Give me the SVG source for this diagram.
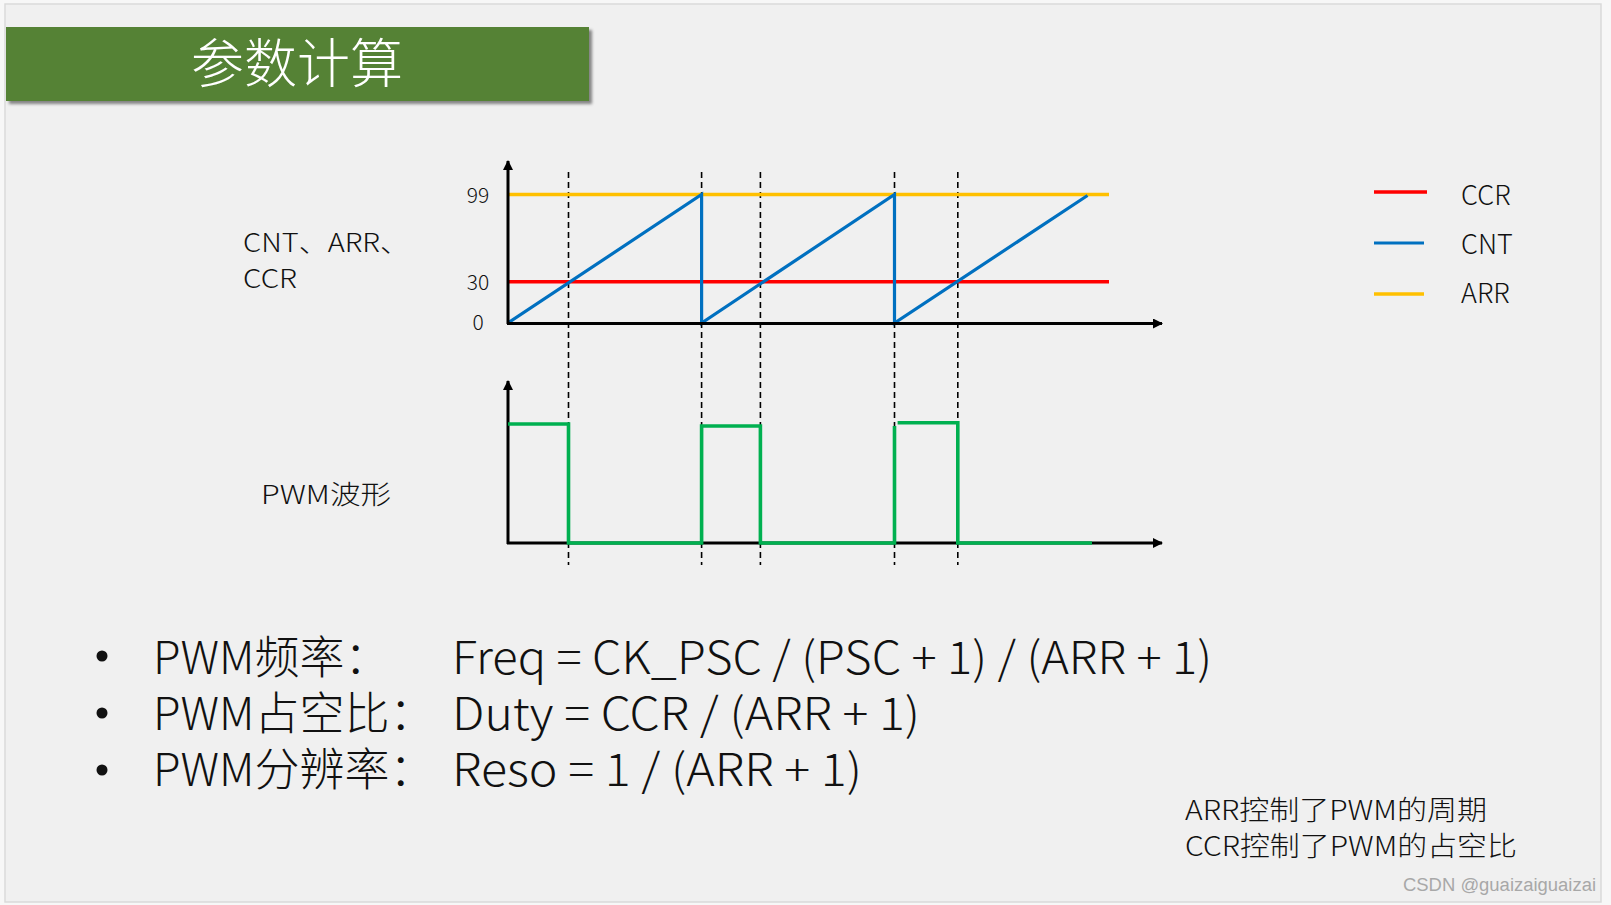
<svg xmlns="http://www.w3.org/2000/svg" width="1611" height="905" viewBox="0 0 1611 905">
<defs>
<style>
text{font-family:"Noto Sans CJK SC","Noto Sans",sans-serif;fill:#111;font-weight:300}
.ax{stroke:#000;stroke-width:3;fill:none}
.dash{stroke:#000;stroke-width:1.6;stroke-dasharray:6 4;fill:none}
.cnt{stroke:#0070c0;stroke-width:3.2;fill:none;stroke-linejoin:miter}
.ccr{stroke:#ff0000;stroke-width:3.6;fill:none}
.arr{stroke:#ffc000;stroke-width:3.6;fill:none}
.pwm{stroke:#00b050;stroke-width:3.6;fill:none}
.lbl{font-size:26px}
.tick{font-size:21px;text-anchor:middle}
.big{font-size:45px}
</style>
<marker id="ah" viewBox="0 0 10 10" refX="9" refY="5" markerWidth="12" markerHeight="10" markerUnits="userSpaceOnUse" orient="auto">
<path d="M0,0 L10,5 L0,10 z" fill="#000"/>
</marker>
<filter id="sh" x="-5%" y="-20%" width="110%" height="150%">
<feDropShadow dx="3" dy="3" stdDeviation="1.5" flood-color="#000" flood-opacity="0.45"/>
</filter>
</defs>
<rect x="0" y="0" width="1611" height="905" fill="#f7f7f7"/>
<rect x="5" y="4" width="1596" height="898" fill="#f0f0f0" stroke="#dadada" stroke-width="1.5"/>

<g id="title">
<rect x="6" y="27" width="583" height="74" fill="#548235" filter="url(#sh)"/>
<text x="297" y="83" font-size="53" text-anchor="middle" style="fill:#fff">参数计算</text>
</g>

<g id="labels">
<text class="lbl" x="243" y="252" textLength="166" lengthAdjust="spacingAndGlyphs">CNT、ARR、</text>
<text class="lbl" x="243" y="288" textLength="54" lengthAdjust="spacingAndGlyphs">CCR</text>
<text class="lbl" x="261" y="504" textLength="130" lengthAdjust="spacingAndGlyphs">PWM波形</text>
<text class="tick" x="478" y="203">99</text>
<text class="tick" x="478" y="290">30</text>
<text class="tick" x="478" y="330">0</text>
</g>

<g id="legend">
<line x1="1374" y1="192" x2="1427" y2="192" class="ccr" stroke-width="4"/>
<line x1="1374" y1="243" x2="1424" y2="243" class="cnt" stroke-width="4"/>
<line x1="1374" y1="294" x2="1424" y2="294" class="arr" stroke-width="4"/>
<text x="1461" y="205" font-size="27">CCR</text>
<text x="1461" y="254" font-size="27">CNT</text>
<text x="1461" y="303" font-size="27">ARR</text>
</g>

<g id="connectors">
<g id="dashed">
<line class="dash" x1="568.5" y1="172" x2="568.5" y2="565"/>
<line class="dash" x1="701.6" y1="172" x2="701.6" y2="565"/>
<line class="dash" x1="760.4" y1="172" x2="760.4" y2="565"/>
<line class="dash" x1="894.5" y1="172" x2="894.5" y2="565"/>
<line class="dash" x1="957.8" y1="172" x2="957.8" y2="565"/>
</g>
<g id="chart-top">
<line class="arr" x1="508" y1="194.5" x2="1109" y2="194.5"/>
<line class="ccr" x1="508" y1="281.7" x2="1109" y2="281.7"/>
<polyline class="cnt" points="508,323 701.6,194.5 701.6,323 894.5,194.5 894.5,323 1087.5,195.5"/>
<line class="ax" x1="508" y1="324" x2="508" y2="161" marker-end="url(#ah)"/>
<line class="ax" x1="507" y1="323.5" x2="1162" y2="323.5" marker-end="url(#ah)"/>
</g>
<g id="chart-bottom">
<line class="ax" x1="508" y1="544" x2="508" y2="381" marker-end="url(#ah)"/>
<line class="ax" x1="507" y1="543" x2="1162" y2="543" marker-end="url(#ah)"/>
<polyline class="pwm" points="508,424 568.5,424 568.5,543 701.6,543 701.6,426 760.4,426 760.4,543 894.5,543 894.5,426"/>
<polyline class="pwm" points="897.6,422.7 957.8,422.7 957.8,543 1092,543"/>
</g>
</g>

<g id="formulas">
<circle cx="102" cy="656" r="5.5" fill="#111"/>
<circle cx="102" cy="713" r="5.5" fill="#111"/>
<circle cx="102" cy="770" r="5.5" fill="#111"/>
<text class="big" x="153" y="674">PWM频率：</text>
<text class="big" x="153" y="730">PWM占空比：</text>
<text class="big" x="153" y="786">PWM分辨率：</text>
<text class="big" x="452" y="674" textLength="760" lengthAdjust="spacingAndGlyphs">Freq = CK_PSC / (PSC + 1) / (ARR + 1)</text>
<text class="big" x="452" y="730" textLength="468" lengthAdjust="spacingAndGlyphs">Duty = CCR / (ARR + 1)</text>
<text class="big" x="452" y="786" textLength="410" lengthAdjust="spacingAndGlyphs">Reso = 1 / (ARR + 1)</text>
</g>

<g id="notes">
<text x="1185" y="820" font-size="27" textLength="302" lengthAdjust="spacingAndGlyphs">ARR控制了PWM的周期</text>
<text x="1185" y="856" font-size="27" textLength="332" lengthAdjust="spacingAndGlyphs">CCR控制了PWM的占空比</text>
</g>

<g id="watermark">
<text x="1403" y="891" font-size="18" textLength="193" lengthAdjust="spacingAndGlyphs" style="fill:#a8a8a8;font-weight:400;font-family:'Liberation Sans',sans-serif">CSDN @guaizaiguaizai</text>
</g>
</svg>
